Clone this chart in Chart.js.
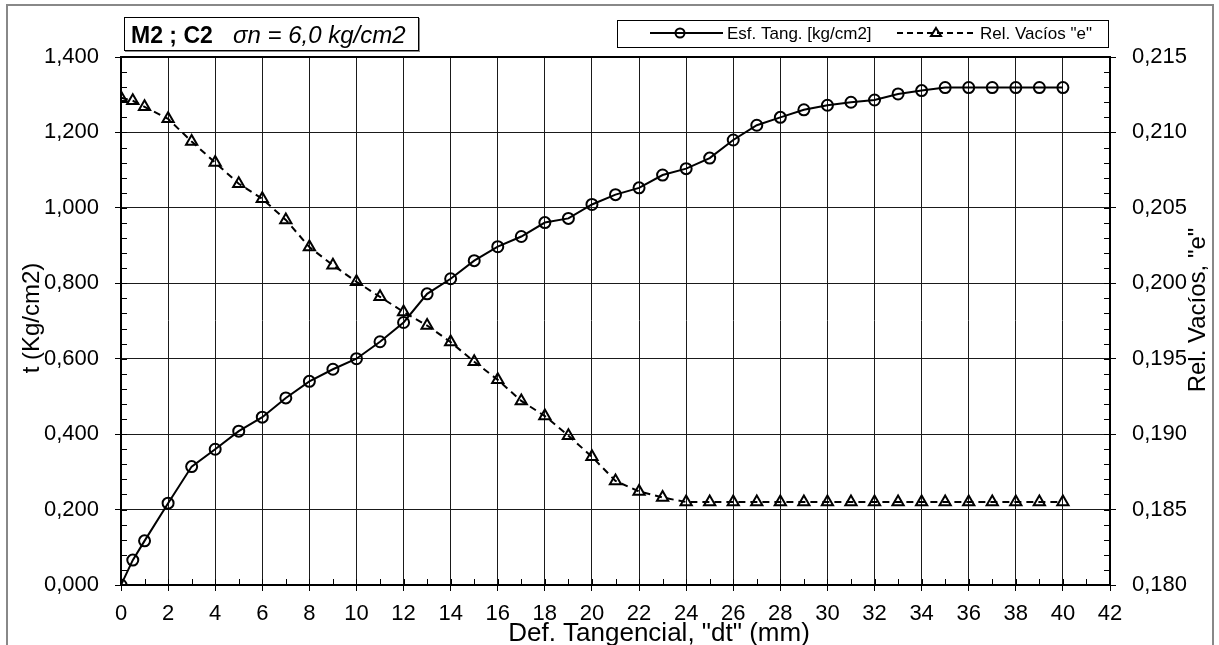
<!DOCTYPE html>
<html>
<head>
<meta charset="utf-8">
<script src="https://cdn.jsdelivr.net/npm/chart.js@4"></script>
<style>
  html, body { margin: 0; padding: 0; background: #fff; }
  #wrap { width: 1219px; height: 645px; position: relative; }
</style>
</head>
<body>
<div id="wrap"><canvas id="chart"></canvas></div>
<script>
// desplazamiento tangencial (mm)
const dtValues = [0, 0.5, 1, 2, 3, 4, 5, 6, 7, 8, 9, 10, 11, 12, 13, 14, 15, 16, 17, 18, 19, 20,
  21, 22, 23, 24, 25, 26, 27, 28, 29, 30, 31, 32, 33, 34, 35, 36, 37, 38, 39, 40];
// esfuerzo tangencial (kg/cm2)
const shearValues = [0.000, 0.066, 0.117, 0.217, 0.314, 0.360, 0.408, 0.445, 0.496, 0.540, 0.572, 0.600,
  0.645, 0.696, 0.772, 0.812, 0.860, 0.897, 0.924, 0.961, 0.972, 1.009, 1.035, 1.053, 1.087, 1.104,
  1.132, 1.180, 1.219, 1.240, 1.260, 1.272, 1.280, 1.286, 1.302, 1.311, 1.319, 1.319, 1.319, 1.319, 1.319, 1.319];
// relacion de vacios "e"
const voidValues = [0.2123, 0.2121, 0.2117, 0.2109, 0.2094, 0.2080, 0.2066, 0.2056, 0.2042, 0.2024, 0.2012, 0.2001,
  0.1991, 0.1981, 0.1972, 0.1961, 0.1948, 0.1936, 0.1922, 0.1912, 0.1899, 0.1885, 0.1869, 0.1862, 0.1858,
  0.1855, 0.1855, 0.1855, 0.1855, 0.1855, 0.1855, 0.1855, 0.1855, 0.1855, 0.1855, 0.1855, 0.1855, 0.1855,
  0.1855, 0.1855, 0.1855, 0.1855];

const xTicks = [0, 2, 4, 6, 8, 10, 12, 14, 16, 18, 20, 22, 24, 26, 28, 30, 32, 34, 36, 38, 40, 42];
const leftTicks = [0, 0.2, 0.4, 0.6, 0.8, 1.0, 1.2, 1.4];
const rightTicks = [0.180, 0.185, 0.190, 0.195, 0.200, 0.205, 0.210, 0.215];

const chartTitleBold = 'M2 ; C2';
const chartTitleItalic = '\u03C3n = 6,0 kg/cm2';
const xTitle = 'Def. Tangencial, "dt" (mm)';
const yTitle = 't (Kg/cm2)';
const y1Title = 'Rel. Vac\u00EDos, "e"';
const shearLabel = 'Esf. Tang. [kg/cm2]';
const voidLabel = 'Rel. Vac\u00EDos "e"';

const FONT = '"Liberation Sans", Arial, sans-serif';
const comma = v => v.toFixed(3).replace('.', ',');
const setTicks = arr => scale => { scale.ticks = arr.map(v => ({ value: v })); };

function minorTicks(ctx, scale, step, count, axis, len) {
  ctx.save();
  ctx.strokeStyle = '#000';
  ctx.lineWidth = 1;
  ctx.beginPath();
  for (let i = 1; i < count; i++) {
    const v = scale.min + i * step;
    const p = Math.round(scale.getPixelForValue(v)) + 0.5;
    if (axis === 'x') { ctx.moveTo(p, scale.top); ctx.lineTo(p, scale.top - len); }
    else if (axis === 'left') { ctx.moveTo(scale.right, p); ctx.lineTo(scale.right + len, p); }
    else { ctx.moveTo(scale.left, p); ctx.lineTo(scale.left - len, p); }
  }
  ctx.stroke();
  ctx.restore();
}

const decor = {
  id: 'decor',
  afterDraw(chart) {
    const ctx = chart.ctx;
    const a = chart.chartArea;
    const s = chart.scales;

    // marco del area de trazado
    ctx.save();
    ctx.strokeStyle = '#000';
    ctx.lineWidth = 2;
    ctx.strokeRect(a.left, a.top, a.right - a.left, a.bottom - a.top);
    ctx.restore();

    minorTicks(ctx, s.x, 1, 42, 'x', 6);
    minorTicks(ctx, s.y, 0.04, 35, 'left', 6);
    minorTicks(ctx, s.y1, 0.001, 35, 'right', 6);

    // borde exterior
    ctx.save();
    ctx.strokeStyle = '#888';
    ctx.lineWidth = 2;
    ctx.strokeRect(7, 5, 1206, 660);
    ctx.restore();

    // titulo
    ctx.save();
    ctx.fillStyle = '#fff';
    ctx.fillRect(124, 17, 294, 33);
    ctx.strokeStyle = '#888';
    ctx.lineWidth = 2;
    ctx.beginPath();
    ctx.moveTo(419, 18); ctx.lineTo(419, 51); ctx.lineTo(125, 51);
    ctx.stroke();
    ctx.strokeStyle = '#000';
    ctx.lineWidth = 1;
    ctx.strokeRect(124.5, 17.5, 294, 33);
    ctx.fillStyle = '#000';
    ctx.textBaseline = 'alphabetic';
    ctx.font = 'bold 23px ' + FONT;
    ctx.fillText(chartTitleBold, 131, 43);
    ctx.font = 'italic 24px ' + FONT;
    ctx.fillText(chartTitleItalic, 233, 43);
    ctx.restore();

    // leyenda
    ctx.save();
    ctx.fillStyle = '#fff';
    ctx.fillRect(617, 20, 491, 27);
    ctx.strokeStyle = '#000';
    ctx.lineWidth = 1;
    ctx.strokeRect(617.5, 20.5, 491, 27);
    const ly = 33;
    ctx.lineWidth = 2;
    ctx.beginPath();
    ctx.moveTo(650, ly); ctx.lineTo(723, ly);
    ctx.stroke();
    ctx.beginPath();
    ctx.arc(680, ly, 4.5, 0, Math.PI * 2);
    ctx.stroke();
    ctx.setLineDash([6, 4]);
    ctx.beginPath();
    ctx.moveTo(897, ly); ctx.lineTo(975, ly);
    ctx.stroke();
    ctx.setLineDash([]);
    ctx.beginPath();
    ctx.moveTo(936, ly - 5); ctx.lineTo(941, ly + 3); ctx.lineTo(931, ly + 3); ctx.closePath();
    ctx.stroke();
    ctx.fillStyle = '#000';
    ctx.font = '17px ' + FONT;
    ctx.textBaseline = 'middle';
    ctx.fillText(shearLabel, 727, ly + 1);
    ctx.fillText(voidLabel, 980, ly + 1);
    ctx.restore();

    // titulos de ejes
    ctx.save();
    ctx.fillStyle = '#000';
    ctx.textAlign = 'center';
    ctx.textBaseline = 'middle';
    ctx.font = '26px ' + FONT;
    ctx.fillText(xTitle, 659, 634);
    ctx.font = '24px ' + FONT;
    ctx.translate(32, 318);
    ctx.rotate(-Math.PI / 2);
    ctx.fillText(yTitle, 0, 0);
    ctx.restore();
    ctx.save();
    ctx.fillStyle = '#000';
    ctx.textAlign = 'center';
    ctx.textBaseline = 'middle';
    ctx.font = '24px ' + FONT;
    ctx.translate(1198, 310);
    ctx.rotate(-Math.PI / 2);
    ctx.fillText(y1Title, 0, 0);
    ctx.restore();
  }
};

const tickFont = { family: FONT, size: 22 };

new Chart(document.getElementById('chart'), {
  type: 'line',
  data: {
    datasets: [
      {
        label: shearLabel,
        data: dtValues.map((x, i) => ({ x, y: shearValues[i] })),
        yAxisID: 'y',
        borderColor: '#000',
        borderWidth: 2,
        pointStyle: 'circle',
        pointRadius: 5.5,
        pointBorderWidth: 2,
        pointBorderColor: '#000',
        pointBackgroundColor: 'rgba(0,0,0,0)',
        tension: 0
      },
      {
        label: voidLabel,
        data: dtValues.map((x, i) => ({ x, y: voidValues[i] })),
        yAxisID: 'y1',
        borderColor: '#000',
        borderWidth: 2,
        borderDash: [7, 5],
        pointStyle: 'triangle',
        pointRadius: 6.5,
        pointBorderWidth: 2,
        pointBorderColor: '#000',
        pointBackgroundColor: 'rgba(0,0,0,0)',
        tension: 0
      }
    ]
  },
  options: {
    responsive: true,
    maintainAspectRatio: false,
    animation: false,
    layout: { padding: { top: 57, left: 0, right: 0, bottom: 0 } },
    plugins: { legend: { display: false }, title: { display: false }, tooltip: { enabled: false } },
    scales: {
      x: {
        type: 'linear', min: 0, max: 42,
        afterBuildTicks: setTicks(xTicks),
        afterFit: sc => { sc.height = 60; },
        ticks: { font: tickFont, color: '#000', padding: 10, maxRotation: 0, autoSkip: false },
        grid: { color: '#1a1a1a', lineWidth: 1, tickLength: 6, tickColor: '#000' },
        border: { color: '#000', width: 2 }
      },
      y: {
        position: 'left', min: 0, max: 1.4,
        afterBuildTicks: setTicks(leftTicks),
        afterFit: sc => { sc.width = 121; },
        ticks: { font: tickFont, color: '#000', padding: 16, callback: v => comma(v) },
        grid: { color: '#1a1a1a', lineWidth: 1, tickLength: 6, tickColor: '#000' },
        border: { color: '#000', width: 2 }
      },
      y1: {
        position: 'right', min: 0.18, max: 0.215,
        afterBuildTicks: setTicks(rightTicks),
        afterFit: sc => { sc.width = 109; },
        ticks: { font: tickFont, color: '#000', padding: 16, callback: v => comma(v) },
        grid: { drawOnChartArea: false, lineWidth: 1, tickLength: 6, tickColor: '#000' },
        border: { color: '#000', width: 2 }
      }
    }
  },
  plugins: [decor]
});
</script>
</body>
</html>
